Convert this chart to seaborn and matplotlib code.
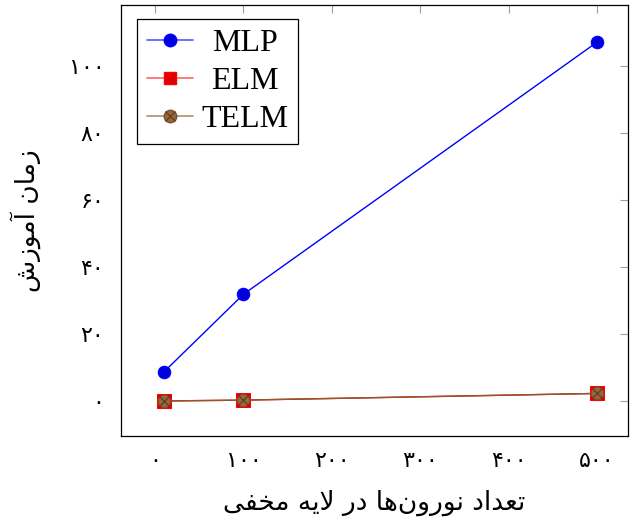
import matplotlib
matplotlib.use("Agg")
import matplotlib.pyplot as plt
import seaborn as sns
import pandas as pd
from matplotlib.ticker import FuncFormatter
from matplotlib.lines import Line2D

# ---- data ----
neurons = [10, 100, 500]
mlp = [8.7, 31.9, 107.2]
elm = [0.05, 0.3, 2.3]
telm = [0.05, 0.3, 2.3]
series_names = ["MLP", "ELM", "TELM"]
x_ticks = [0, 100, 200, 300, 400, 500]
y_ticks = [0, 20, 40, 60, 80, 100]
x_label = "تعداد نورون‌ها در لایه مخفی"
y_label = "زمان آموزش"

# ---- minimal Arabic/Persian shaping (presentation forms + visual order) ----
FORMS = {
    'ا': (0xFE8D, 0xFE8E, None, None),
    'آ': (0xFE81, 0xFE82, None, None),
    'د': (0xFEA9, 0xFEAA, None, None),
    'ر': (0xFEAD, 0xFEAE, None, None),
    'ز': (0xFEAF, 0xFEB0, None, None),
    'و': (0xFEED, 0xFEEE, None, None),
    'ت': (0xFE95, 0xFE96, 0xFE97, 0xFE98),
    'ع': (0xFEC9, 0xFECA, 0xFECB, 0xFECC),
    'ن': (0xFEE5, 0xFEE6, 0xFEE7, 0xFEE8),
    'ه': (0xFEE9, 0xFEEA, 0xFEEB, 0xFEEC),
    'ل': (0xFEDD, 0xFEDE, 0xFEDF, 0xFEE0),
    'ی': (0xFEEF, 0xFEF0, 0xFEF3, 0xFEF4),
    'م': (0xFEE1, 0xFEE2, 0xFEE3, 0xFEE4),
    'خ': (0xFEA5, 0xFEA6, 0xFEA7, 0xFEA8),
    'ف': (0xFED1, 0xFED2, 0xFED3, 0xFED4),
    'ش': (0xFEB5, 0xFEB6, 0xFEB7, 0xFEB8),
}


def shape(text):
    units = []
    i = 0
    while i < len(text):
        if text[i] == 'ل' and i + 1 < len(text) and text[i + 1] == 'ا':
            units.append('LA')
            i += 2
        else:
            units.append(text[i])
            i += 1

    def dual(u):
        return u in FORMS and FORMS[u][2] is not None

    def letter(u):
        return u == 'LA' or u in FORMS

    out = []
    for k, u in enumerate(units):
        if u == '\u200c':
            continue
        prev = units[k - 1] if k > 0 else None
        nxt = units[k + 1] if k + 1 < len(units) else None
        jp = prev is not None and (prev != 'LA') and dual(prev)
        if u == 'LA':
            out.append(chr(0xFEFC if jp else 0xFEFB))
            continue
        if u not in FORMS:
            out.append(u)
            continue
        jn = dual(u) and nxt is not None and letter(nxt)
        iso, fin, ini, med = FORMS[u]
        if jp and jn:
            out.append(chr(med))
        elif jp:
            out.append(chr(fin))
        elif jn:
            out.append(chr(ini))
        else:
            out.append(chr(iso))
    return ''.join(reversed(out))


def fa_digits(v, pos=None):
    s = str(int(round(v)))
    return s.translate(str.maketrans("0123456789", "۰۱۲۳۴۵۶۷۸۹"))


# ---- plot ----
sns.set_style("white")
plt.rcParams["font.family"] = ["DejaVu Sans"]
plt.rcParams["text.color"] = "black"
plt.rcParams["axes.labelcolor"] = "black"
plt.rcParams["xtick.labelcolor"] = "black"
plt.rcParams["ytick.labelcolor"] = "black"

fig = plt.figure(figsize=(6.3, 5.24), dpi=100)
ax = fig.add_axes([0.192, 0.168, 0.805, 0.822])

df = pd.DataFrame({"x": neurons, "MLP": mlp, "ELM": elm, "TELM": telm})

sns.lineplot(data=df, x="x", y="MLP", ax=ax, color="blue", lw=1.0,
             marker="o", markersize=9, markeredgecolor="blue",
             markerfacecolor="#0000dd")
sns.lineplot(data=df, x="x", y="ELM", ax=ax, color="red", lw=1.0,
             marker="s", markersize=9.5, markeredgecolor="red",
             markerfacecolor="#dd0000")
sns.lineplot(data=df, x="x", y="TELM", ax=ax, color="#8a5a30", lw=1.0,
             marker="o", markersize=9, markeredgecolor="#7a5030",
             markerfacecolor="#99663a")
sns.lineplot(data=df, x="x", y="TELM", ax=ax, color="none", lw=0,
             marker="x", markersize=6.5, markeredgecolor="#5a3a20",
             markeredgewidth=0.8)

ax.set_xlim(-38.5, 535)
ax.set_ylim(-10.4, 118.2)
ax.set_xticks(x_ticks)
ax.set_yticks(y_ticks)
ax.xaxis.set_major_formatter(FuncFormatter(fa_digits))
ax.yaxis.set_major_formatter(FuncFormatter(fa_digits))
ax.tick_params(direction="in", length=6, width=0.8, color="#a0a0a0",
               top=True, right=True, labelsize=16)
ax.tick_params(axis="x", pad=11)
ax.tick_params(axis="y", pad=12)

for s in ax.spines.values():
    s.set_color("black")
    s.set_linewidth(0.9)

ax.set_xlabel(shape(x_label), fontsize=19, labelpad=13)
ax.set_ylabel(shape(y_label), fontsize=19, labelpad=20)

# legend
h_mlp = Line2D([], [], color="#5555ff", lw=1.2, marker="o", markersize=9,
               markerfacecolor="#0000dd", markeredgecolor="blue")
h_elm = Line2D([], [], color="#ff6666", lw=1.2, marker="s", markersize=9,
               markerfacecolor="#dd0000", markeredgecolor="red")
h_telm = Line2D([], [], color="#b09070", lw=1.2, marker="o", markersize=9,
                markerfacecolor="#99663a", markeredgecolor="#7a5030")
h_telm_x = Line2D([], [], color="none", lw=0, marker="x", markersize=6.5,
                  markeredgecolor="#5a3a20", markeredgewidth=0.8)
leg = ax.legend([h_mlp, h_elm, (h_telm, h_telm_x)], series_names,
                loc="upper left", bbox_to_anchor=(0.032, 0.968),
                prop={"family": "Liberation Serif", "size": 23},
                frameon=True, fancybox=False, framealpha=1,
                edgecolor="black", handlelength=1.45, handletextpad=0.25,
                borderpad=0.3, labelspacing=0.27, borderaxespad=0)
leg.get_frame().set_linewidth(0.9)

# centre legend labels within their column (as in the reference)
fig.canvas.draw()
renderer = fig.canvas.get_renderer()
texts = leg.get_texts()
widths = [t.get_window_extent(renderer).width for t in texts]
maxw = max(widths)
for t, w in zip(texts, widths):
    t.set_color("black")
    t.set_x((maxw - w) / 2.0)

fig.savefig("out.png", dpi=100)
